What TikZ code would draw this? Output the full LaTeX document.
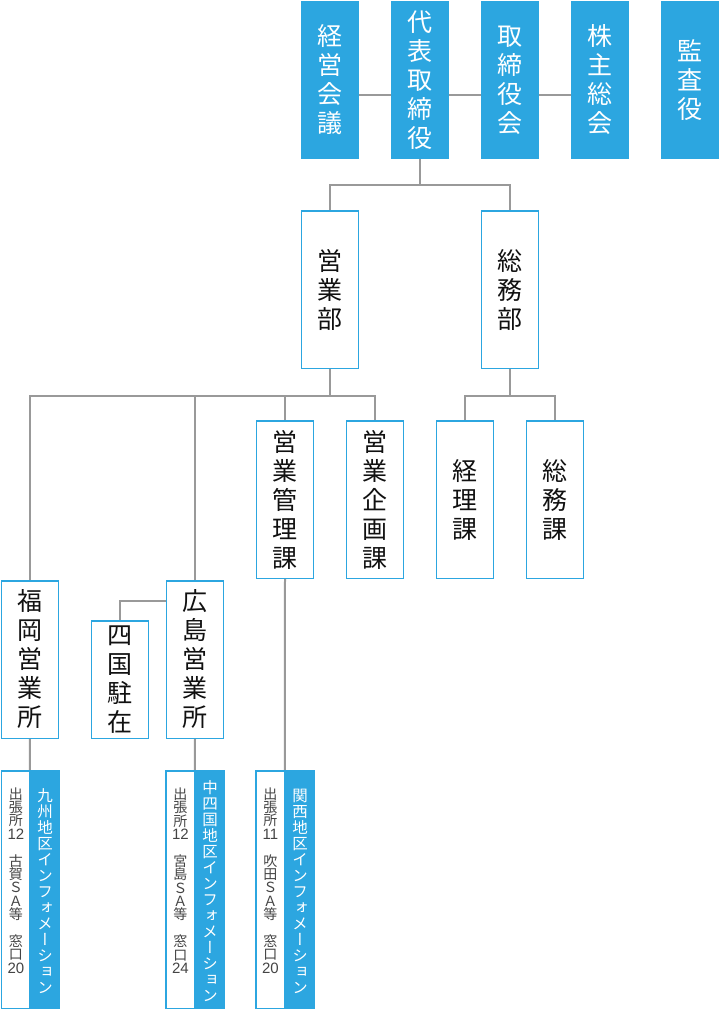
\documentclass[tikz,border=0pt]{standalone}
\usepackage{fontspec}
\newfontfamily\cjk{Noto Sans CJK JP}
\newfontfamily\cjkv[RawFeature=+vert]{Noto Sans CJK JP}
\newfontfamily\latnum{Liberation Sans}
\newcommand\dg[1]{{\latnum\fontsize{15}{13.4}\selectfont #1}}
\definecolor{orgblue}{HTML}{2CA6E0}
\definecolor{lgray}{HTML}{999999}
\definecolor{dgray}{HTML}{444444}
\definecolor{ink}{HTML}{111111}
\tikzset{
  topbox/.style={fill=orgblue,text=white,minimum width=58pt,minimum height=158pt,inner sep=0pt,align=center,
    font={\fontsize{25}{29}\selectfont\cjk\lineskiplimit=-100pt}},
  orgbox/.style={draw=orgblue,line width=1.5pt,fill=white,text=ink,minimum width=57pt,minimum height=157.5pt,inner sep=0pt,align=center,
    font={\fontsize{25}{29}\selectfont\cjk\lineskiplimit=-100pt}},
  link/.style={draw=lgray,line width=2pt},
  infow/.style={draw=orgblue,line width=1.5pt,fill=white,minimum width=28.5pt,minimum height=237.5pt,inner sep=0pt},
  infob/.style={fill=orgblue,minimum width=30pt,minimum height=239pt,inner sep=0pt},
  infowtxt/.style={text=dgray,inner sep=0pt,align=center,
    font={\fontsize{14}{13.4}\selectfont\cjkv\lineskiplimit=-100pt}},
  infobtxt/.style={text=white,inner sep=0pt,align=center,
    font={\fontsize{15.5}{16}\selectfont\cjkv\lineskiplimit=-100pt}},
}
\begin{document}
\begin{tikzpicture}[x=1pt,y=-1pt]
\useasboundingbox (0,0) rectangle (720,1010);
% top row
\node[topbox] (keiei) at (330,80) {経\\営\\会\\議};
\node[topbox] (daihyo) at (420,80) {代\\表\\取\\締\\役};
\node[topbox] (torishimari) at (510,80) {取\\締\\役\\会};
\node[topbox] (kabunushi) at (600,80) {株\\主\\総\\会};
\node[topbox] (kansa) at (690,80) {監\\査\\役};
\draw[link] ([yshift=-15pt]keiei.east) -- ([yshift=-15pt]daihyo.west);
\draw[link] ([yshift=-15pt]daihyo.east) -- ([yshift=-15pt]torishimari.west);
\draw[link] ([yshift=-15pt]torishimari.east) -- ([yshift=-15pt]kabunushi.west);
% level 2
\node[orgbox] (eigyo) at (330,289.5) {営\\業\\部};
\node[orgbox] (somu) at (510,289.5) {総\\務\\部};
\coordinate (j1) at (420,185);
\draw[link] (daihyo.south) -- (j1);
\draw[link] (eigyo.north) |- (j1) -| (somu.north);
% level 3
\node[orgbox] (kanri) at (285,499.5) {営\\業\\管\\理\\課};
\node[orgbox] (kikaku) at (375,499.5) {営\\業\\企\\画\\課};
\node[orgbox] (keiri) at (465,499.5) {経\\理\\課};
\node[orgbox] (somuka) at (555,499.5) {総\\務\\課};
% level 4
\node[orgbox] (fukuoka) at (30,659.5) {福\\岡\\営\\業\\所};
\node[orgbox] (hiroshima) at (195,659.5) {広\\島\\営\\業\\所};
\node[orgbox,minimum height=117.5pt] (shikoku) at (120,679.5) {四\\国\\駐\\在};
% buses
\coordinate (j2) at (330,396);
\draw[link] (eigyo.south) -- (j2);
\draw[link] (fukuoka.north) |- (j2) -| (kikaku.north);
\draw[link] (hiroshima.north) -- (hiroshima.north |- j2);
\draw[link] (kanri.north) -- (kanri.north |- j2);
\coordinate (j3) at (510,396);
\draw[link] (somu.south) -- (j3);
\draw[link] (keiri.north) |- (j3) -| (somuka.north);
\draw[link] (shikoku.north) |- ([yshift=-21pt]hiroshima.north west);
% info boxes
\node[infow] (kyushuW) at (15.9,889.5) {};
\node[infob] (kyushuB) at (45,889.5) {};
\node[infow] (chuW) at (180.4,889.5) {};
\node[infob] (chuB) at (210,889.5) {};
\node[infow] (kansaiW) at (270.4,889.5) {};
\node[infob] (kansaiB) at (300,889.5) {};
\draw[link] (fukuoka.south) -- (kyushuB.north west);
\draw[link] (hiroshima.south) -- (chuB.north west);
\draw[link] (kanri.south) -- (kansaiB.north west);
\node[infowtxt] (kyushuT) at ([yshift=9pt]kyushuW.center) {出\\張\\所\\\dg{12}\\　\\古\\賀\\Ｓ\\Ａ\\等\\　\\窓\\口\\\dg{20}};
\node[infobtxt] (kyushuL) at ([yshift=-1.5pt]kyushuB.center) {九\\州\\地\\区\\イ\\ン\\フ\\ォ\\メ\\ー\\シ\\ョ\\ン};
\node[infowtxt] (chuT) at ([yshift=9pt]chuW.center) {出\\張\\所\\\dg{12}\\　\\宮\\島\\Ｓ\\Ａ\\等\\　\\窓\\口\\\dg{24}};
\node[infobtxt] (chuL) at ([yshift=-1.5pt]chuB.center) {中\\四\\国\\地\\区\\イ\\ン\\フ\\ォ\\メ\\ー\\シ\\ョ\\ン};
\node[infowtxt] (kansaiT) at ([yshift=9pt]kansaiW.center) {出\\張\\所\\\dg{11}\\　\\吹\\田\\Ｓ\\Ａ\\等\\　\\窓\\口\\\dg{20}};
\node[infobtxt] (kansaiL) at ([yshift=-1.5pt]kansaiB.center) {関\\西\\地\\区\\イ\\ン\\フ\\ォ\\メ\\ー\\シ\\ョ\\ン};
\end{tikzpicture}
\end{document}
